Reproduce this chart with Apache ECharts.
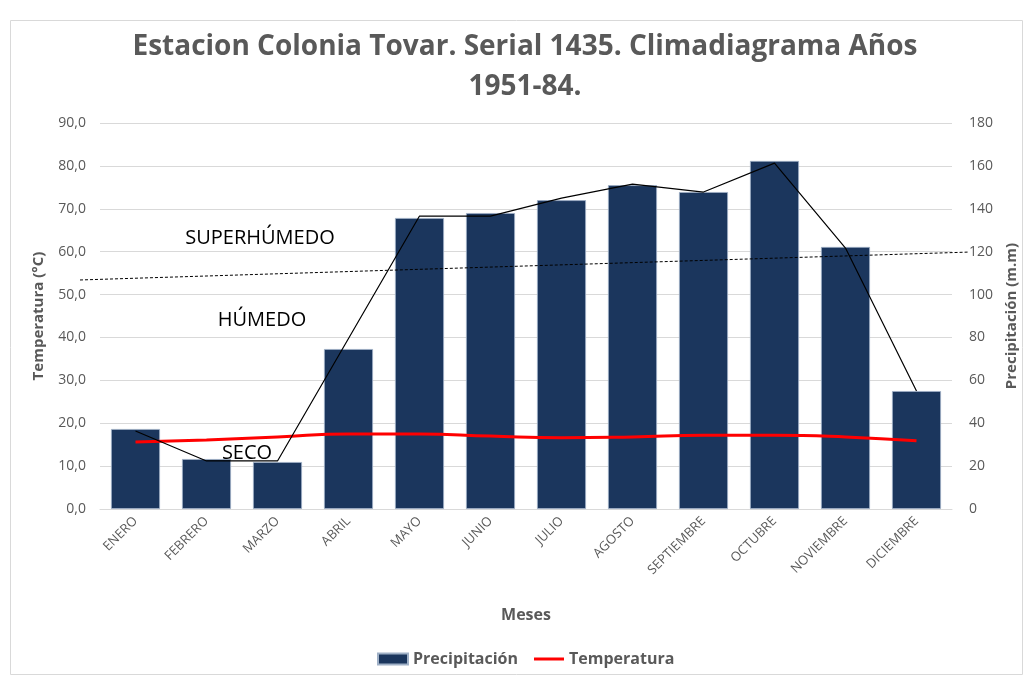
<!DOCTYPE html>
<html>
<head>
<meta charset="utf-8">
<script src="https://cdn.jsdelivr.net/npm/echarts@6/dist/echarts.min.js"></script>
<style>html,body{margin:0;padding:0;background:#fff}#c{width:1027px;height:677px}</style>
</head>
<body>
<div id="c"></div>
<script>
const months = ['ENERO','FEBRERO','MARZO','ABRIL','MAYO','JUNIO','JULIO','AGOSTO','SEPTIEMBRE','OCTUBRE','NOVIEMBRE','DICIEMBRE'];
const precipitacion = [37.3, 23.3, 21.9, 74.6, 135.7, 138.0, 144.0, 151.0, 147.8, 162.3, 122.2, 55.0];
const temperatura = [15.6, 16.1, 16.8, 17.5, 17.5, 17.0, 16.6, 16.8, 17.2, 17.2, 16.8, 15.9];
const trazoPrecip = [36.4, 22.4, 22.4, null, 136.6, 136.6, 145.0, 151.5, 147.8, 161.3, 121.7, 55.0];
const limiteHumedo = [53.4, 59.9];
const zonas = ['SUPERHÚMEDO', 'HÚMEDO', 'SECO'];

const FONT = 'Open Sans';
const GRAY = '#595959';
const chart = echarts.init(document.getElementById('c'));
chart.setOption({
  animation: false,
  textStyle: { fontFamily: FONT },
  title: {
    text: 'Estacion Colonia Tovar. Serial 1435. Climadiagrama Años\n1951-84.',
    left: 520, top: 22, textAlign: 'center',
    textStyle: { fontFamily: FONT, fontSize: 28, fontWeight: 'bold', color: GRAY, lineHeight: 40 }
  },
  legend: {
    bottom: 5, left: 372, itemWidth: 30, itemHeight: 11, itemGap: 16,
    textStyle: { fontFamily: FONT, fontSize: 16, fontWeight: 'bold', color: GRAY },
    data: [
      { name: 'Precipitación', icon: 'rect' },
      { name: 'Temperatura', icon: 'path://M0,0 L30,0 L30,3 L0,3 Z' }
    ]
  },
  grid: [
    { left: 100, right: 74, top: 123, bottom: 168 },
    { left: 80, right: 59, top: 123, bottom: 168 }
  ],
  xAxis: [
    {
      type: 'category', data: months, gridIndex: 0,
      axisTick: { show: false },
      axisLine: { lineStyle: { color: '#d9d9d9' } },
      axisLabel: { rotate: 45, color: GRAY, fontSize: 13, margin: 10, interval: 0 },
      name: 'Meses', nameLocation: 'middle', nameGap: 98,
      nameTextStyle: { fontSize: 16, fontWeight: 'bold', color: GRAY }
    },
    { type: 'value', gridIndex: 1, min: 0, max: 1, show: false }
  ],
  yAxis: [
    {
      type: 'value', min: 0, max: 90, interval: 10, gridIndex: 0,
      axisLabel: { color: GRAY, fontSize: 14, margin: 14, formatter: v => v.toFixed(1).replace('.', ',') },
      splitLine: { lineStyle: { color: '#d9d9d9' } },
      axisLine: { show: false }, axisTick: { show: false },
      name: 'Temperatura (°C)', nameLocation: 'middle', nameGap: 54,
      nameTextStyle: { fontSize: 15, fontWeight: 'bold', color: GRAY }
    },
    {
      type: 'value', min: 0, max: 180, interval: 20, gridIndex: 0, position: 'right',
      axisLabel: { color: GRAY, fontSize: 14, margin: 17 },
      splitLine: { show: false },
      axisLine: { show: false }, axisTick: { show: false },
      name: 'Precipitación (m.m)', nameLocation: 'middle', nameGap: 52, nameRotate: 90,
      nameTextStyle: { fontSize: 15, fontWeight: 'bold', color: GRAY }
    },
    { type: 'value', min: 0, max: 90, gridIndex: 1, show: false }
  ],
  series: [
    {
      name: 'Precipitación', type: 'bar', xAxisIndex: 0, yAxisIndex: 1, data: precipitacion,
      barWidth: '69%',
      itemStyle: { color: '#1b365d', borderColor: '#9fb0c6', borderWidth: 0.8 }
    },
    {
      name: 'Temperatura', type: 'line', xAxisIndex: 0, yAxisIndex: 0, data: temperatura,
      smooth: true, symbol: 'none', lineStyle: { color: '#ff0000', width: 3 }, itemStyle: { color: '#ff0000' }, z: 5
    },
    {
      name: 'trazo', type: 'line', xAxisIndex: 0, yAxisIndex: 1, data: trazoPrecip, connectNulls: true,
      symbol: 'none', lineStyle: { color: '#000', width: 1.2 }, z: 6, silent: true
    },
    {
      name: 'limite', type: 'line', xAxisIndex: 1, yAxisIndex: 2,
      data: [[0, limiteHumedo[0]], [1, limiteHumedo[1]]],
      symbol: 'none', lineStyle: { color: '#000', width: 1, type: [3, 2] }, z: 6, silent: true
    }
  ],
  graphic: [
    { type: 'rect', left: 8, top: 18, shape: { width: 1012, height: 654 }, style: { fill: 'none', stroke: '#d9d9d9', lineWidth: 1 }, silent: true },
    { type: 'text', x: 260, y: 238, style: { text: zonas[0], font: '20px "Open Sans"', fill: '#000', align: 'center', verticalAlign: 'middle' }, z: 10 },
    { type: 'text', x: 262, y: 320, style: { text: zonas[1], font: '20px "Open Sans"', fill: '#000', align: 'center', verticalAlign: 'middle' }, z: 10 },
    { type: 'text', x: 247, y: 453, style: { text: zonas[2], font: '20px "Open Sans"', fill: '#000', align: 'center', verticalAlign: 'middle' }, z: 10 }
  ]
});
</script>
</body>
</html>
